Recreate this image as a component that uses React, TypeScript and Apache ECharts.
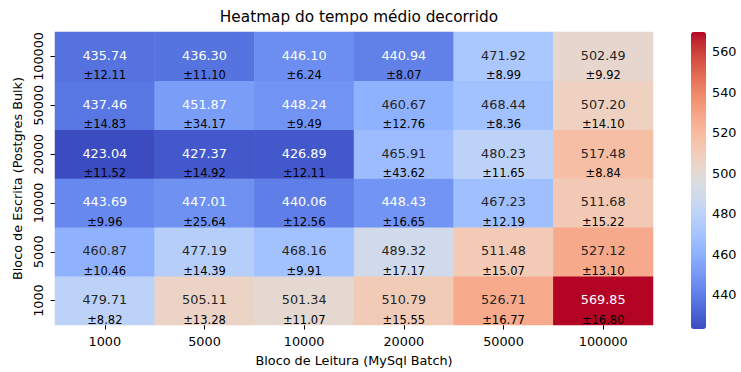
import React, { useEffect, useRef } from "react";
import * as echarts from "echarts";

const xCats = ["1000", "5000", "10000", "20000", "50000", "100000"];
const yCats = ["1000", "5000", "10000", "20000", "50000", "100000"];

// mean values per write block (row), columns follow xCats
const meanW1000 = [479.71, 505.11, 501.34, 510.79, 526.71, 569.85];
const meanW5000 = [460.87, 477.19, 468.16, 489.32, 511.48, 527.12];
const meanW10000 = [443.69, 447.01, 440.06, 448.43, 467.23, 511.68];
const meanW20000 = [423.04, 427.37, 426.89, 465.91, 480.23, 517.48];
const meanW50000 = [437.46, 451.87, 448.24, 460.67, 468.44, 507.2];
const meanW100000 = [435.74, 436.3, 446.1, 440.94, 471.92, 502.49];

const stdW1000 = [8.82, 13.28, 11.07, 15.55, 16.77, 16.8];
const stdW5000 = [10.46, 14.39, 9.91, 17.17, 15.07, 13.1];
const stdW10000 = [9.96, 25.64, 12.56, 16.65, 12.19, 15.22];
const stdW20000 = [11.52, 14.92, 12.11, 43.62, 11.65, 8.84];
const stdW50000 = [14.83, 34.17, 9.49, 12.76, 8.36, 14.1];
const stdW100000 = [12.11, 11.1, 6.24, 8.07, 8.99, 9.92];

const colorbarTicks = [440, 460, 480, 500, 520, 540, 560];
const vMin = 423.04;
const vMax = 569.85;

const meanRows = [meanW1000, meanW5000, meanW10000, meanW20000, meanW50000, meanW100000];
const stdRows = [stdW1000, stdW5000, stdW10000, stdW20000, stdW50000, stdW100000];

const coolwarm = [
  "rgb(59,76,192)", "rgb(68,90,204)", "rgb(77,104,215)", "rgb(87,117,225)",
  "rgb(98,130,234)", "rgb(108,142,241)", "rgb(119,154,247)", "rgb(130,165,251)",
  "rgb(141,176,254)", "rgb(152,185,255)", "rgb(163,194,255)", "rgb(174,201,253)",
  "rgb(184,208,249)", "rgb(194,213,244)", "rgb(204,217,238)", "rgb(213,219,230)",
  "rgb(221,221,221)", "rgb(229,216,209)", "rgb(236,211,197)", "rgb(241,204,185)",
  "rgb(245,196,173)", "rgb(247,187,160)", "rgb(247,177,148)", "rgb(247,166,135)",
  "rgb(244,154,123)", "rgb(241,141,111)", "rgb(236,127,99)", "rgb(229,112,88)",
  "rgb(222,96,77)", "rgb(213,80,66)", "rgb(203,62,56)", "rgb(192,40,47)",
  "rgb(180,4,38)",
];

const FONT = "DejaVu Sans";

export default function App() {
  const ref = useRef<HTMLDivElement>(null);
  useEffect(() => {
    if (!ref.current) return;
    const chart = echarts.init(ref.current, null, { renderer: "svg" });
    const data: any[] = [];
    meanRows.forEach((row, yi) => {
      row.forEach((v, xi) => {
        data.push({ value: [xi, yi, v], std: stdRows[yi][xi] });
      });
    });
    chart.setOption({
      animation: false,
      textStyle: { fontFamily: FONT },
      title: {
        text: "Heatmap do tempo médio decorrido",
        left: 354,
        textAlign: "center",
        top: 4,
        textStyle: { fontFamily: FONT, fontSize: 15.3, fontWeight: "normal", color: "#000" },
      },
      grid: [
        { left: 55, top: 32, width: 598, height: 297 },
        { left: 691, top: 32, width: 15, height: 297 },
      ],
      xAxis: [
        {
          type: "category",
          data: xCats,
          gridIndex: 0,
          axisLine: { show: false },
          axisTick: { show: true, length: 4.5, alignWithLabel: true, lineStyle: { color: "#000" } },
          axisLabel: { fontFamily: FONT, fontSize: 12.8, color: "#000", margin: 10, interval: 0 },
          splitLine: { show: false },
          name: "Bloco de Leitura (MySql Batch)",
          nameLocation: "middle",
          nameGap: 29,
          nameTextStyle: { fontFamily: FONT, fontSize: 12.8, color: "#000" },
        },
        { type: "value", gridIndex: 1, show: false },
      ],
      yAxis: [
        {
          type: "category",
          data: yCats,
          gridIndex: 0,
          axisLine: { show: false },
          axisTick: { show: true, length: 4.5, alignWithLabel: true, lineStyle: { color: "#000" } },
          axisLabel: { fontFamily: FONT, fontSize: 12.8, color: "#000", margin: 10, rotate: 90, interval: 0 },
          splitLine: { show: false },
          name: "Bloco de Escrita (Postgres Bulk)",
          nameLocation: "middle",
          nameGap: 30,
          nameTextStyle: { fontFamily: FONT, fontSize: 12.8, color: "#000" },
        },
        {
          type: "value",
          gridIndex: 1,
          position: "right",
          min: vMin,
          max: vMax,
          axisLine: { show: false },
          splitLine: { show: false },
          axisTick: { show: true, length: 4.5, customValues: colorbarTicks, lineStyle: { color: "#000" } },
          axisLabel: { show: true, customValues: colorbarTicks, fontFamily: FONT, fontSize: 12.8, color: "#000", margin: 6 },
        },
      ],
      visualMap: {
        type: "continuous",
        min: vMin,
        max: vMax,
        seriesIndex: 0,
        calculable: false,
        orient: "vertical",
        left: 676,
        top: 17,
        itemWidth: 15,
        itemHeight: 297,
        text: ["", ""],
        showLabel: false,
        inRange: { color: coolwarm },
      },
      series: [
        {
          type: "heatmap",
          xAxisIndex: 0,
          yAxisIndex: 0,
          data,
          itemStyle: { borderWidth: 0 },
          emphasis: { disabled: true },
          label: {
            show: true,
            offset: [0, 9],
            formatter: (p: any) => {
              const v = p.value[2];
              const key = v < 455 || v > 550 ? "w" : "v";
              return `{${key}|${v.toFixed(2)}}\n{s|±${p.data.std.toFixed(2)}}`;
            },
            rich: {
              v: { fontFamily: FONT, fontSize: 12.8, color: "#262626", lineHeight: 20 },
              w: { fontFamily: FONT, fontSize: 12.8, color: "#ffffff", lineHeight: 20 },
              s: { fontFamily: FONT, fontSize: 11.5, color: "#000", lineHeight: 20 },
            },
          },
        },
      ],
    });
    return () => chart.dispose();
  }, []);
  return <div ref={ref} style={{ width: 741, height: 372, position: "absolute", left: 0, top: 0 }} />;
}
